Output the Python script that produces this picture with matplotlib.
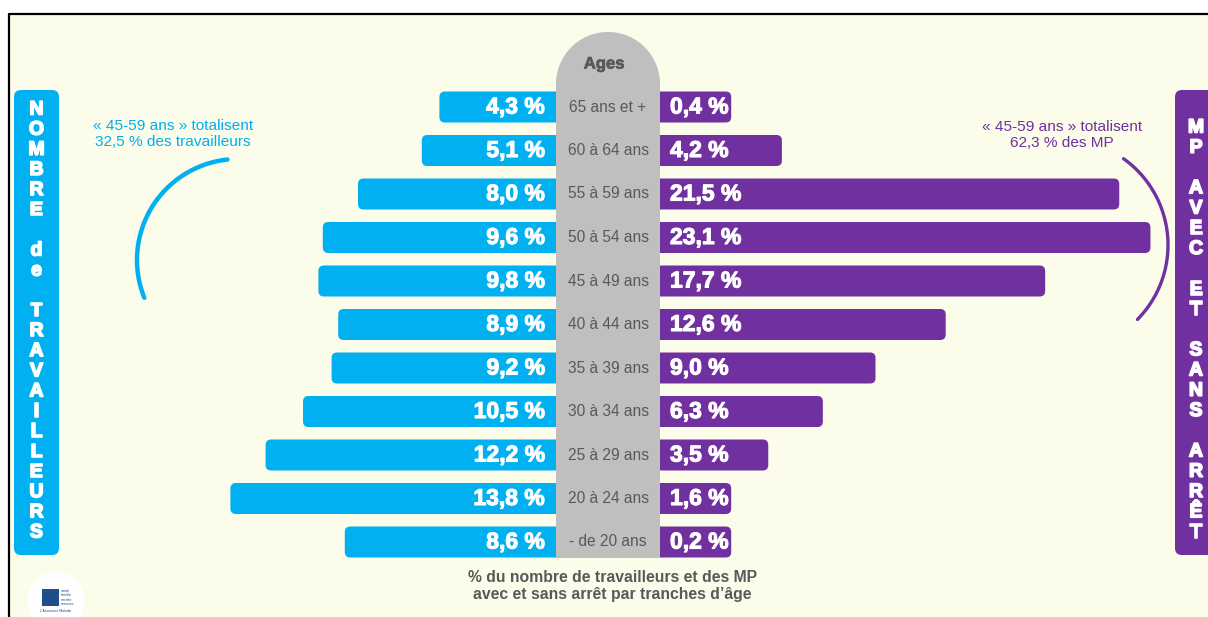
import numpy as np
import matplotlib
matplotlib.use("Agg")
import matplotlib.pyplot as plt
import matplotlib.patheffects as pe
from matplotlib.patches import FancyBboxPatch, Polygon, Circle, Rectangle

plt.rcParams["font.family"] = ["Liberation Sans", "DejaVu Sans"]

# ── Data ──────────────────────────────────────────────────────────────
ages = ["65 ans et +", "60 à 64 ans", "55 à 59 ans", "50 à 54 ans", "45 à 49 ans",
        "40 à 44 ans", "35 à 39 ans", "30 à 34 ans", "25 à 29 ans", "20 à 24 ans",
        "- de 20 ans"]
travailleurs = [4.3, 5.1, 8.0, 9.6, 9.8, 8.9, 9.2, 10.5, 12.2, 13.8, 8.6]
mp = [0.4, 4.2, 21.5, 23.1, 17.7, 12.6, 9.0, 6.3, 3.5, 1.6, 0.2]

left_title = ["NOMBRE", "de", "TRAVAILLEURS"]
right_title = ["MP", "AVEC", "ET", "SANS", "ARRÊT"]
note_left = "« 45-59 ans » totalisent\n32,5 % des travailleurs"
note_right = "« 45-59 ans » totalisent\n62,3 % des MP"
footer = "% du nombre de travailleurs et des MP\navec et sans arrêt par tranches d’âge"

CYAN = "#00B0F0"
PURPLE = "#7030A0"
GREY = "#BFBFBF"
DARK = "#595959"


def heavy(color, lw=1.0):
    # fake "Arial Black" weight with a thin outline of the same colour
    return [pe.withStroke(linewidth=lw, foreground=color)]


W, H = 1208, 617
fig = plt.figure(figsize=(W / 100, H / 100), dpi=100)
fig.patch.set_facecolor("white")

# ── Background / decoration axes in pixel units ──────────────────────
bg = fig.add_axes([0, 0, 1, 1], zorder=0)
bg.set_xlim(0, W)
bg.set_ylim(H, 0)
bg.axis("off")
bg.add_patch(Rectangle((9, 14), W, H, facecolor="#FBFCEA", edgecolor="none"))
bg.plot([9, 9, W], [H, 14, 14], color="black", lw=1.6, solid_capstyle="butt")

# side boxes
bg.add_patch(FancyBboxPatch((14, 90), 45, 465, boxstyle="round,pad=0,rounding_size=7",
                            facecolor=CYAN, edgecolor="none"))
bg.add_patch(FancyBboxPatch((1175, 90), 45, 465, boxstyle="round,pad=0,rounding_size=7",
                            facecolor=PURPLE, edgecolor="none"))


def stack_letters(words):
    chars = []
    for i, w in enumerate(words):
        if i:
            chars.append(" ")
        chars.extend(list(w))
    return chars


for k, ch in enumerate(stack_letters(left_title)):
    bg.text(36.5, 110 + 20.14 * k, ch, color="white", fontsize=14, fontweight="bold",
            ha="center", va="center", path_effects=heavy("white", 1.2))
for k, ch in enumerate(stack_letters(right_title)):
    bg.text(1196, 128 + 20.25 * k, ch, color="white", fontsize=14, fontweight="bold",
            ha="center", va="center", path_effects=heavy("white", 1.2))

# notes and arcs
bg.text(173, 134, note_left, color=CYAN, fontsize=11.1, ha="center", va="center",
        linespacing=1.15)
bg.text(1062, 135, note_right, color=PURPLE, fontsize=11.1, ha="center", va="center",
        linespacing=1.15)

t = np.radians(np.linspace(96, 202, 80))
bg.plot(238 + 101 * np.cos(t), 260 - 101 * np.sin(t), color=CYAN, lw=3.2,
        solid_capstyle="round")
t = np.radians(np.linspace(54.5, -44.6, 80))
bg.plot(1062 + 106 * np.cos(t), 245 - 106 * np.sin(t), color=PURPLE, lw=2.4,
        solid_capstyle="round")

# footer
bg.text(612, 586, footer, color=DARK, fontsize=11.3, fontweight="bold",
        ha="center", va="center", linespacing=1.2)

# logo
bg.add_patch(Circle((56, 601), 29, facecolor="white", edgecolor="none"))
bg.add_patch(Rectangle((42, 589), 17, 17, facecolor="#1F4E8C", edgecolor="none"))
for j, w in enumerate(["santé", "famille", "retraite", "services"]):
    bg.text(61, 591 + 4.3 * j, w, fontsize=2.6, color="#1F4E8C", va="center")
bg.text(56, 611, "L'Assurance Maladie", fontsize=2.4, color="#1F4E8C", ha="center",
        va="center")

# ── Bar axes (percent units) ─────────────────────────────────────────
ROW0, ROWSTEP = 107, 43.5
ylim = ((H - ROW0) / ROWSTEP, -ROW0 / ROWSTEP)
COL_L, COL_R = 556, 660
PX_L, PX_R = 22.0, 19.5          # pixels per percent on each side
OFF_L, OFF_R = 22 / PX_L, 40 / PX_R
BAR_H = 31 / ROWSTEP
y = np.arange(len(ages))

ax_l = fig.add_axes([0, 0, COL_L / W, 1], zorder=1)
ax_l.set_xlim(COL_L / PX_L, 0)
ax_l.set_ylim(*ylim)
ax_l.axis("off")
ax_l.patch.set_alpha(0)

ax_r = fig.add_axes([COL_R / W, 0, 1 - COL_R / W, 1], zorder=1)
ax_r.set_xlim(0, (W - COL_R) / PX_R)
ax_r.set_ylim(*ylim)
ax_r.axis("off")
ax_r.patch.set_alpha(0)

for yi, v in zip(y, travailleurs):
    w = v + OFF_L + 1
    ax_l.add_patch(FancyBboxPatch((-1, yi - BAR_H / 2), w, BAR_H,
                                  boxstyle="round,pad=0,rounding_size=0.25",
                                  mutation_aspect=PX_L / ROWSTEP,
                                  facecolor=CYAN, edgecolor="none", clip_on=False))
    ax_l.text(11 / PX_L, yi, f"{v:.1f} %".replace(".", ","), color="white",
              fontsize=16.5, fontweight="bold", ha="right", va="center",
              path_effects=heavy("white", 0.8))

for yi, v in zip(y, mp):
    w = max(v, 1.6) + OFF_R + 1
    ax_r.add_patch(FancyBboxPatch((-1, yi - BAR_H / 2), w, BAR_H,
                                  boxstyle="round,pad=0,rounding_size=0.28",
                                  mutation_aspect=PX_R / ROWSTEP,
                                  facecolor=PURPLE, edgecolor="none", clip_on=False))
    ax_r.text(10 / PX_R, yi, f"{v:.1f} %".replace(".", ","), color="white",
              fontsize=16.5, fontweight="bold", ha="left", va="center",
              path_effects=heavy("white", 0.8))

# ── Central age column ───────────────────────────────────────────────
top = fig.add_axes([0, 0, 1, 1], zorder=2)
top.set_xlim(0, W)
top.set_ylim(*ylim)
top.axis("off")
top.patch.set_alpha(0)

cx, r = (COL_L + COL_R) / 2, (COL_R - COL_L) / 2
a = np.linspace(np.pi, 0, 60)
arc_x = cx + r * np.cos(a)
arc_y = (84 - r * np.sin(a) - ROW0) / ROWSTEP
bottom_y = (558 - ROW0) / ROWSTEP
pts = np.column_stack([np.r_[arc_x, COL_R, COL_L], np.r_[arc_y, bottom_y, bottom_y]])
top.add_patch(Polygon(pts, closed=True, facecolor=GREY, edgecolor="none"))
top.text(cx - 4, (64 - ROW0) / ROWSTEP, "Ages", color=DARK, fontsize=12,
         fontweight="bold", ha="center", va="center", path_effects=heavy(DARK, 0.5))
for yi, lab in zip(y, ages):
    top.text(cx, yi, lab, color=DARK, fontsize=11.2, ha="center", va="center")

fig.savefig("out.png", dpi=100, facecolor=fig.get_facecolor())
